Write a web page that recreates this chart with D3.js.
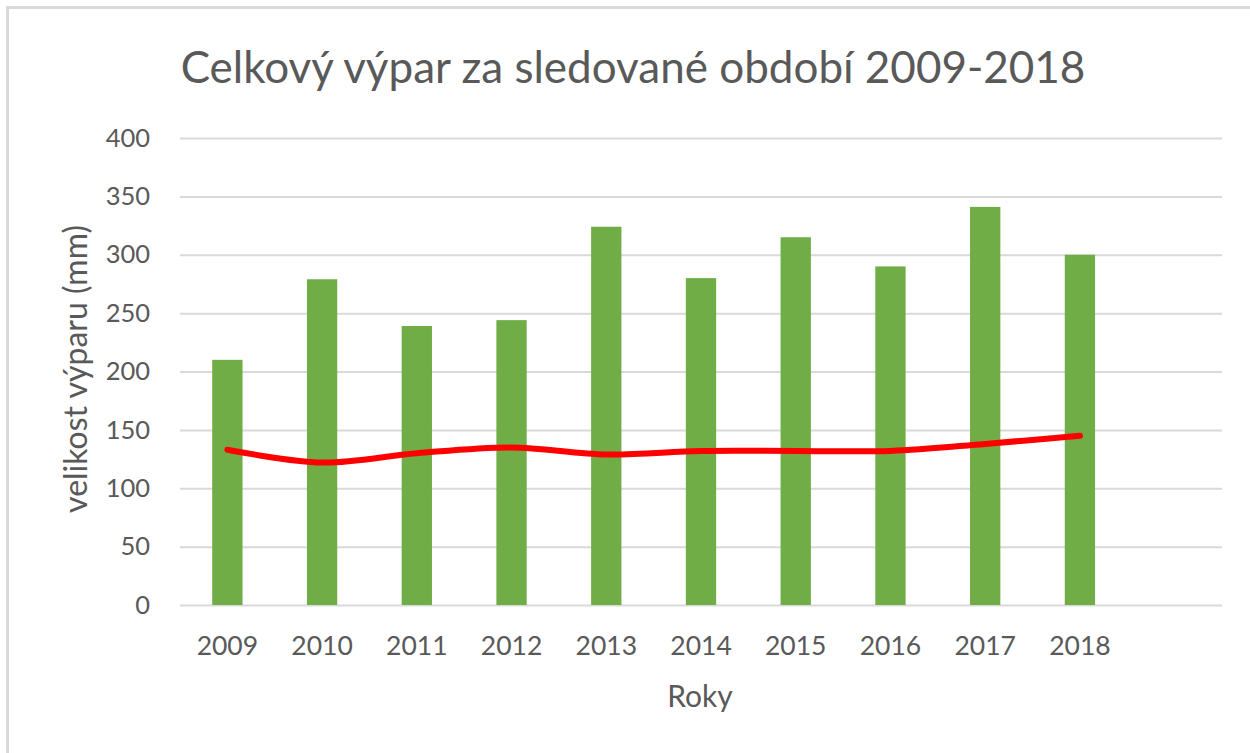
<!DOCTYPE html>
<html>
<head>
<meta charset="utf-8">
<script src="https://cdn.jsdelivr.net/npm/d3@7"></script>
<style>
  body { margin: 0; background: #fff; }
  text { font-family: Lato, "Open Sans", sans-serif; fill: #595959; }
</style>
</head>
<body>
<div id="app-chart"></div>
<script>
let years = ["2009", "2010", "2011", "2012", "2013", "2014", "2015", "2016", "2017", "2018"]
let barValues = [210, 279, 239, 244, 324, 280, 315, 290, 341, 300]
let lineValues = [133, 122, 130, 135, 129, 132, 132, 132, 138, 145]
let yTicks = [0, 50, 100, 150, 200, 250, 300, 350, 400]

let svgW = 1250;
let svgH = 753;

let margin = { left: 180, right: 28, top: 138, bottom: 148 }
let chartW = svgW - margin.left - margin.right;
let chartH = svgH - margin.top - margin.bottom;

let svg = d3.select("#app-chart")
  .append("svg")
  .attr("width", svgW)
  .attr("height", svgH)

// frame of the chart area (only top and left edges are visible)
svg.append("rect")
  .attr("x", 7.5)
  .attr("y", 7.5)
  .attr("width", svgW + 20)
  .attr("height", svgH + 20)
  .attr("fill", "none")
  .attr("stroke", "#d9d9d9")
  .attr("stroke-width", 3)

// one empty slot after the last year, like the original
let x = d3.scaleBand()
  .domain(years.concat([""]))
  .range([0, chartW])
  .paddingInner(0.68)
  .paddingOuter(0.34)

let y = d3.scaleLinear()
  .domain([0, 400])
  .range([chartH, 0])

let group = svg.append("g")
  .attr("transform", `translate(${margin.left},${margin.top})`)

// gridlines
group.append("g")
  .attr("class", "grid")
  .call(d3.axisLeft(y).tickValues(yTicks).tickSize(-chartW).tickFormat(""))
  .call(g => g.select(".domain").remove())
  .selectAll("line")
  .attr("stroke", "#d9d9d9")
  .attr("stroke-width", 2)

// y labels
group.append("g")
  .attr("class", "y axis")
  .call(d3.axisLeft(y).tickValues(yTicks).tickSize(0).tickPadding(30))
  .call(g => g.select(".domain").remove())
  .selectAll("text")
  .style("font-size", "25.5px")

// x labels
group.append("g")
  .attr("class", "x axis")
  .attr("transform", `translate(0, ${chartH})`)
  .call(d3.axisBottom(x).tickSize(0).tickPadding(31))
  .call(g => g.select(".domain").remove())
  .selectAll("text")
  .style("font-size", "26.5px")

let data = years.map((d, i) => ({ year: d, bar: barValues[i], line: lineValues[i] }))

group.selectAll("rect.bar")
  .data(data)
  .enter()
  .append("rect")
  .attr("class", "bar")
  .attr("x", d => x(d.year))
  .attr("y", d => y(d.bar))
  .attr("width", x.bandwidth())
  .attr("height", d => chartH - y(d.bar))
  .attr("fill", "#70ad47")

let line = d3.line()
  .x(d => x(d.year) + x.bandwidth() / 2)
  .y(d => y(d.line))
  .curve(d3.curveCatmullRom.alpha(0))

group.append("path")
  .datum(data)
  .attr("d", line)
  .attr("fill", "none")
  .attr("stroke", "#ff0000")
  .attr("stroke-width", 6)
  .attr("stroke-linecap", "round")
  .attr("stroke-linejoin", "round")

// title
svg.append("text")
  .attr("x", 633)
  .attr("y", 83)
  .attr("text-anchor", "middle")
  .style("font-size", "44px")
  .text("Celkový výpar za sledované období 2009-2018")

// axis titles
svg.append("text")
  .attr("x", 700)
  .attr("y", 707)
  .attr("text-anchor", "middle")
  .style("font-size", "30px")
  .text("Roky")

svg.append("text")
  .attr("transform", "translate(87,369) rotate(-90)")
  .attr("text-anchor", "middle")
  .style("font-size", "32px")
  .text("velikost výparu (mm)")
</script>
</body>
</html>
